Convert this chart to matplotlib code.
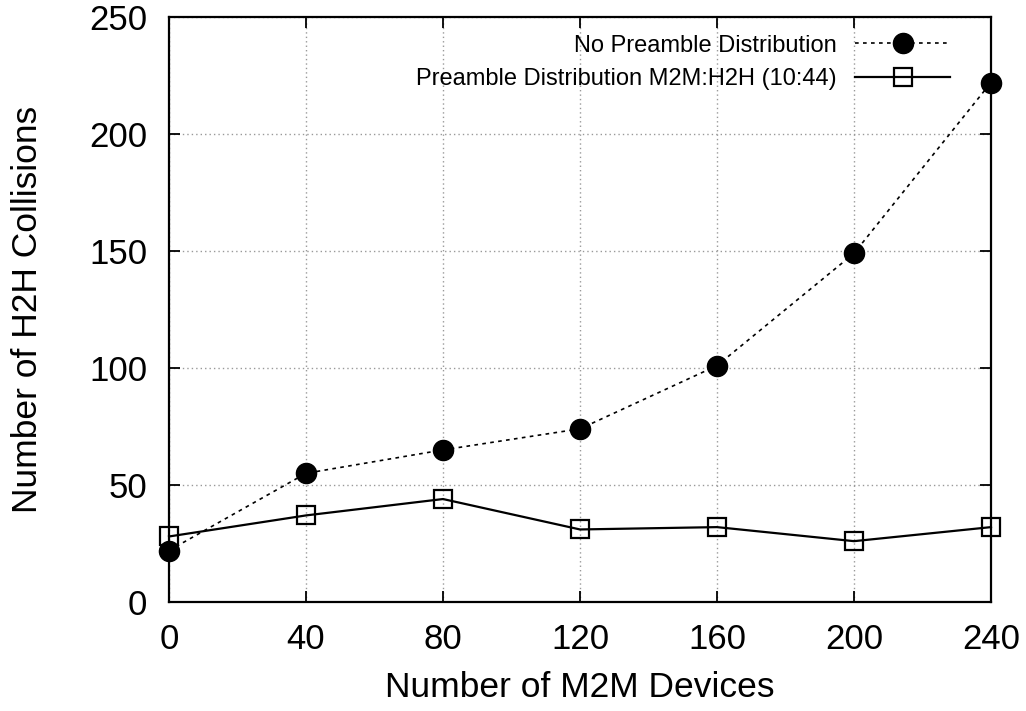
import matplotlib
matplotlib.use("Agg")
import matplotlib.pyplot as plt
from matplotlib.patches import Rectangle

devices = [0, 40, 80, 120, 160, 200, 240]
no_preamble = [22, 55, 65, 74, 101, 149, 222]
preamble_dist = [28, 37, 44, 31, 32, 26, 32]
x_ticks = [0, 40, 80, 120, 160, 200, 240]
y_ticks = [0, 50, 100, 150, 200, 250]
label_a = "No Preamble Distribution"
label_b = "Preamble Distribution M2M:H2H (10:44)"

plt.rcParams['font.family'] = ['Liberation Sans', 'DejaVu Sans']

fig = plt.figure(figsize=(10.26, 7.11), dpi=100)
ax = fig.add_axes([169/1026, 1-602/711, (991-169)/1026, (602-17)/711])

ax.set_xlim(0, 240)
ax.set_ylim(0, 250)
ax.set_xticks(x_ticks)
ax.set_yticks(y_ticks)

ax.grid(True, color='#999999', linestyle=(0, (1, 2.2)), linewidth=1.0, zorder=0)
ax.add_patch(Rectangle((0, 0.86), 1, 0.137, transform=ax.transAxes,
                       facecolor='white', edgecolor='none', zorder=1))

ax.plot(devices, no_preamble, color='black', linestyle=(0, (2.2, 2.6)), linewidth=1.2,
        marker='o', markersize=14.5, markerfacecolor='black', markeredgecolor='black',
        label=label_a, zorder=3, clip_on=False)
ax.plot(devices, preamble_dist, color='black', linestyle='-', linewidth=1.6,
        marker='s', markersize=13, markerfacecolor='none', markeredgecolor='black',
        markeredgewidth=1.6, label=label_b, zorder=3, clip_on=False)

for s in ax.spines.values():
    s.set_linewidth(1.6)
    s.set_zorder(2)

ax.tick_params(direction='in', length=8, width=1.3, top=True, right=True,
               labelsize=25)
ax.tick_params(axis='x', pad=15)
ax.tick_params(axis='y', pad=15.5)

ax.set_xlabel("Number of M2M Devices", fontsize=25.5, labelpad=11)
ax.set_ylabel("Number of H2H Collisions", fontsize=25.5, labelpad=33)

leg = ax.legend(loc='upper right', bbox_to_anchor=(0.95, 0.970), frameon=False,
                markerfirst=False, fontsize=17, handlelength=4.0, handletextpad=0.8,
                labelspacing=0.5, borderpad=0, borderaxespad=0)
leg.set_zorder(5)

fig.savefig("out.png", dpi=100)
